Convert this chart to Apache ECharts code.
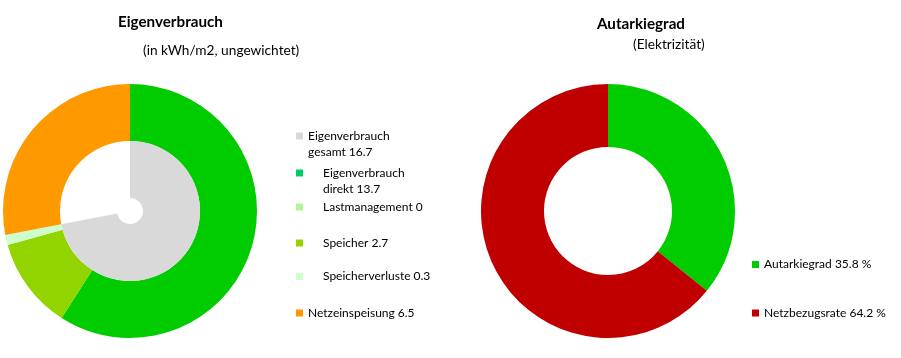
<!DOCTYPE html>
<html>
<head>
<meta charset="utf-8">
<script src="https://cdn.jsdelivr.net/npm/echarts@6/dist/echarts.min.js"></script>
<style>
html,body{margin:0;padding:0;background:#fff;}
#chart{width:901px;height:358px;}
</style>
</head>
<body>
<div id="chart"></div>
<script>
// ---- data ----
const evCategories = ['Eigenverbrauch direkt', 'Lastmanagement', 'Speicher', 'Speicherverluste', 'Netzeinspeisung'];
const evValues = [13.7, 0, 2.7, 0.3, 6.5];
const evTotalName = 'Eigenverbrauch gesamt';
const evTotalValue = 16.7;
const autCategories = ['Autarkiegrad', 'Netzbezugsrate'];
const autValues = [35.8, 64.2];

// ---- styles / layout ----
const FONT = 'Lato';
const evSliceColors = ['#00CC00', '#B3F59B', '#92D400', '#CCFFCC', '#FF9900'];
const evLegendColors = ['#00CC66', '#B3F59B', '#92D400', '#CCFFCC', '#FF9900'];
const evIndent = [15, 15, 15, 15, 0];
const evWrap = [true, false, false, false, false];
const evLegendCenters = [173, 207, 243, 276.5, 313];
const totalLegendCenter = 136;
const autColors = ['#00CC00', '#C00000'];
const autLegendCenters = [264.5, 313];

const valueOf = {};
evCategories.forEach((c, i) => valueOf[c] = evValues[i]);
valueOf[evTotalName] = evTotalValue;
autCategories.forEach((c, i) => valueOf[c] = autValues[i]);

const chart = echarts.init(document.getElementById('chart'), null, {renderer: 'canvas'});

const LH = 16;
function legendItem(name, color, center, left, indent, wrap, suffix) {
  const ts = {fontFamily: FONT, fontSize: 12, color: '#000', lineHeight: LH,
              padding: [0, 0, 0, indent]};
  return {
    orient: 'vertical', left: left, top: center - (wrap ? 1.5 * LH : 0.5 * LH),
    itemWidth: 7, itemHeight: 7, padding: 0, selectedMode: false,
    textStyle: ts,
    formatter: n => {
      const s = n + ' ' + valueOf[n] + suffix;
      if (!wrap) return s;
      const k = s.indexOf(' ');
      // blank first line keeps the first text line level with the swatch
      return '\n' + s.slice(0, k) + '\n' + s.slice(k + 1);
    },
    data: [{name: name, icon: 'rect', itemStyle: {color: color}}]
  };
}

const legends = [legendItem(evTotalName, '#D9D9D9', totalLegendCenter, 296, 0, true, '')]
  .concat(evCategories.map((c, i) => legendItem(c, evLegendColors[i], evLegendCenters[i], 296, evIndent[i], evWrap[i], '')))
  .concat(autCategories.map((c, i) => legendItem(c, autColors[i], autLegendCenters[i], 752, 0, false, ' %')));

const titleStyle = {fontFamily: FONT, fontSize: 15.2, fontWeight: 'bold', color: '#000'};
const subStyle = {fontFamily: FONT, fontSize: 13.7, fontWeight: 'normal', color: '#000'};

chart.setOption({
  animation: false,
  backgroundColor: '#fff',
  title: [
    {text: 'Eigenverbrauch', left: 118, top: 15, padding: 0, textStyle: titleStyle},
    {text: '(in kWh/m2, ungewichtet)', left: 143, top: 44, padding: 0, textStyle: subStyle},
    {text: 'Autarkiegrad', left: 597, top: 17, padding: 0, textStyle: titleStyle},
    {text: '(Elektrizität)', left: 633, top: 38, padding: 0, textStyle: subStyle}
  ],
  legend: legends,
  series: [
    {
      type: 'pie', center: [130, 211], radius: [70, 127], startAngle: 90, clockwise: true,
      label: {show: false}, labelLine: {show: false}, silent: true,
      emphasis: {disabled: true},
      itemStyle: {borderWidth: 0},
      data: evCategories.map((c, i) => ({name: c, value: evValues[i], itemStyle: {color: evSliceColors[i]}}))
    },
    {
      type: 'pie', center: [130, 211], radius: [13, 70], startAngle: 90, clockwise: true,
      label: {show: false}, labelLine: {show: false}, silent: true,
      emphasis: {disabled: true},
      itemStyle: {borderWidth: 0},
      data: [
        {name: evTotalName, value: evTotalValue, itemStyle: {color: '#D9D9D9'}},
        {name: '_rest', value: evValues[4], itemStyle: {color: 'rgba(0,0,0,0)'}}
      ]
    },
    {
      type: 'pie', center: [608, 211], radius: [64, 127], startAngle: 90, clockwise: true,
      label: {show: false}, labelLine: {show: false}, silent: true,
      emphasis: {disabled: true},
      itemStyle: {borderWidth: 0},
      data: autCategories.map((c, i) => ({name: c, value: autValues[i], itemStyle: {color: autColors[i]}}))
    }
  ]
});
</script>
</body>
</html>
